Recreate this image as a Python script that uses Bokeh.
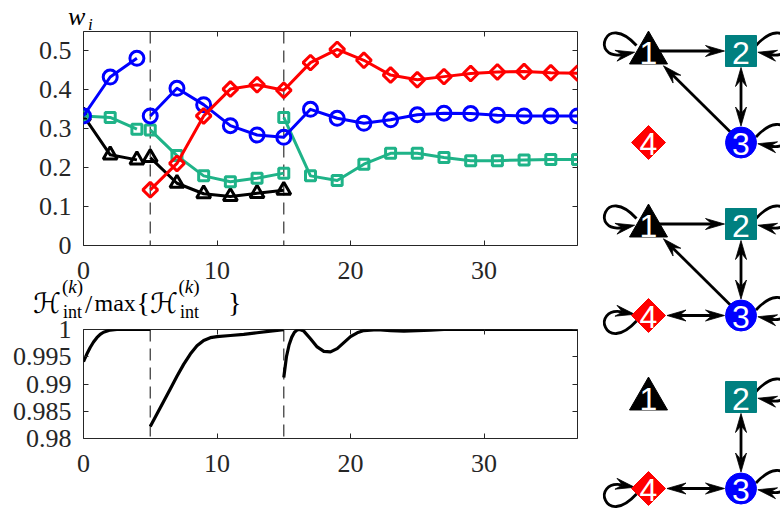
import math
from bokeh.plotting import figure
from bokeh.models import Range1d, LinearAxis, FixedTicker, Span, Div
from bokeh.layouts import row, column
from bokeh.embed import file_html
from bokeh.resources import INLINE
from bokeh.core.properties import value

nan = float("nan")

# ---------------- data: weights w_i per iteration k ----------------
k_node1 = [0, 2, 4, nan, 5, 7, 9, 11, 13, 15]
w_node1 = [0.333, 0.233, 0.220, nan, 0.226, 0.160, 0.133, 0.126, 0.134, 0.142]

k_node2 = [0, 2, 4, nan, 5, 7, 9, 11, 13, 15, nan,
           15, 17, 19, 21, 23, 25, 27, 29, 31, 33, 35, 37]
w_node2 = [0.333, 0.329, 0.299, nan, 0.297, 0.231, 0.179, 0.164, 0.173, 0.186, nan,
           0.329, 0.179, 0.167, 0.209, 0.237, 0.237, 0.226, 0.218, 0.218, 0.220, 0.221, 0.221]

k_node3 = [0, 2, 4, nan, 5, 7, 9, 11, 13, 15,
           17, 19, 21, 23, 25, 27, 29, 31, 33, 35, 37]
w_node3 = [0.333, 0.433, 0.481, nan, 0.333, 0.404, 0.362, 0.308, 0.284, 0.278,
           0.350, 0.327, 0.314, 0.323, 0.336, 0.340, 0.339, 0.335, 0.333, 0.333, 0.333]

k_node4 = [5, 7, 9, 11, 13, 15, 17, 19, 21, 23, 25, 27, 29, 31, 33, 35, 37]
w_node4 = [0.143, 0.211, 0.333, 0.402, 0.413, 0.399,
           0.470, 0.504, 0.476, 0.438, 0.426, 0.434, 0.442, 0.446, 0.447, 0.444, 0.443]

# ---------------- data: normalised H_int ----------------
k_H = [0, 0.25, 0.5, 0.75, 1.0, 1.25, 1.5, 2.0, 2.5, 3, 4, 5, nan,
       5, 5.5, 6, 6.5, 7, 7.5, 8, 8.5, 9, 9.5, 10, 11, 12, 13, 14, 15, nan,
       15, 15.2, 15.4, 15.6, 15.8, 16, 16.2, 16.5, 17, 17.5, 18, 18.5, 19, 19.5,
       20, 20.5, 21, 22, 23, 24, 25, 26, 27, 30, 33, 37]
H_ratio = [0.9941, 0.9955, 0.9967, 0.9977, 0.9985, 0.9991, 0.9995, 0.9999, 1.0, 1.0, 1.0, 1.0, nan,
           0.9822, 0.9845, 0.9868, 0.9891, 0.9914, 0.9936, 0.9955, 0.9970, 0.9980, 0.9985, 0.9987,
           0.9989, 0.9991, 0.9994, 0.9997, 0.99995, nan,
           0.9912, 0.9950, 0.9972, 0.9986, 0.9995, 0.9999, 1.0, 0.9997, 0.9983, 0.9968, 0.9960,
           0.9959, 0.9965, 0.9976, 0.9987, 0.9994, 0.9998, 0.99995, 0.9998, 0.9997, 0.9998,
           0.9999, 1.0, 1.0, 1.0, 1.0]

switch_k = [5, 15]

x_ticks = [0, 10, 20, 30]
x_tick_labels = ["0", "10", "20", "30"]
w_ticks = [0, 0.1, 0.2, 0.3, 0.4, 0.5]
w_tick_labels = ["0", "0.1", "0.2", "0.3", "0.4", "0.5"]
h_ticks = [0.98, 0.985, 0.99, 0.995, 1.0]
h_tick_labels = ["0.98", "0.985", "0.99", "0.995", "1"]

K_RANGE = (0, 37)
W_RANGE = (0, 0.55)
H_RANGE = (0.98, 1.0)

# ---------------- data: network topologies ----------------
node_names = ["1", "2", "3", "4"]
node_col = [0, 1, 1, 0]
node_row = [0, 0, 1, 1]
graph_edges = [
    [(1, 2, False), (3, 1, False), (2, 3, True)],
    [(1, 2, False), (3, 1, False), (2, 3, True), (3, 4, True)],
    [(2, 3, True), (3, 4, True)],
]
graph_loops = [[1, 2, 3], [1, 2, 3, 4], [2, 3, 4]]

# ---------------- style ----------------
SERIF = "Liberation Serif"
SCRIPT = "'DejaVu Serif','DejaVu Sans',serif"
TXT = "#262626"
GREEN = "#1FB388"
series_style = [
    (k_node1, w_node1, "black", "triangle", 14, 0.0),
    (k_node2, w_node2, GREEN, "square", 10, 0.0),
    (k_node3, w_node3, "#0000FF", "circle", 14, 0.0),
    (k_node4, w_node4, "#FF0000", "square", 10.5, math.pi / 4),
]
node_color = ["black", "#008080", "#0000FF", "#FF0000"]
node_marker = ["triangle", "square", "circle", "square"]
node_size = [38, 31, 31, 24]
node_angle = [0, 0, 0, math.pi / 4]
node_dy = [2, 0, 0, 0]
node_clear = [21, 16.5, 16.5, 18.5]
loop_side = [-1, 1, 1, -1]
loop_vert = [-1, -1, -1, 1]
loop_extra = [0, 3, 3, 0]


def configure_axis(ax, ticks, labels=None, standoff=11):
    ax.ticker = FixedTicker(ticks=ticks)
    ax.axis_line_color = None
    ax.major_tick_in = 5
    ax.major_tick_out = 0
    ax.major_tick_line_color = TXT
    ax.major_tick_line_width = 1
    ax.minor_tick_line_color = None
    if labels is not None:
        ax.major_label_overrides = dict(zip(ticks, labels))
        ax.major_label_text_font = SERIF
        ax.major_label_text_font_size = "26px"
        ax.major_label_text_color = TXT
        ax.major_label_standoff = standoff
    else:
        ax.major_label_text_color = None
        ax.major_label_text_font_size = "1px"
        ax.major_label_standoff = 0


def make_panel(height, y_range, top, bottom, yticks, ylabels):
    p = figure(width=590, height=height, x_range=Range1d(*K_RANGE), y_range=Range1d(*y_range),
               output_backend="svg", toolbar_location=None,
               x_axis_type=None, y_axis_type=None,
               min_border_left=83, min_border_right=13,
               min_border_top=top, min_border_bottom=bottom)
    p.outline_line_color = TXT
    p.outline_line_width = 1
    p.background_fill_color = "white"
    p.border_fill_color = "white"
    b = LinearAxis(); configure_axis(b, x_ticks, x_tick_labels, 16); p.add_layout(b, "below")
    l = LinearAxis(); configure_axis(l, yticks, ylabels, 12); p.add_layout(l, "left")
    t = LinearAxis(); configure_axis(t, x_ticks); p.add_layout(t, "above")
    r = LinearAxis(); configure_axis(r, yticks); p.add_layout(r, "right")
    for s in switch_k:
        p.add_layout(Span(location=s, dimension="height", line_color="#404040",
                          line_dash="12 7", line_width=1.3, level="underlay"))
    return p


# ---------------- top panel ----------------
pa = make_panel(305, W_RANGE, 31, 60, w_ticks, w_tick_labels)
for k, w, c, m, sz, ang in series_style:
    pa.line(k, w, line_color=c, line_width=3, line_join="round")
    pa.scatter(k, w, marker=m, size=sz, angle=ang, line_color=c, fill_color=None, line_width=3)

# ---------------- bottom panel ----------------
pb = make_panel(205, H_RANGE, 24, 72, h_ticks, h_tick_labels)
pb.line(k_H, H_ratio, line_color="black", line_width=3.2, line_join="round")

# ---------------- network panels ----------------
pc = figure(width=190, height=510, x_range=Range1d(590, 780), y_range=Range1d(510, 0),
            output_backend="svg", toolbar_location=None, x_axis_type=None, y_axis_type=None,
            min_border=0)
pc.outline_line_color = None
pc.grid.visible = False

GX0, GDX = 648, 92.5
GY0, GDY, PANEL_DY = 50.5, 91.5, 173
HEAD_L, HEAD_W, NOTCH = 19, 11, 0.65


def node_xy(panel, n):
    return (GX0 + GDX * node_col[n - 1], GY0 + PANEL_DY * panel + GDY * node_row[n - 1])


def unit(dx, dy):
    d = math.hypot(dx, dy)
    return dx / d, dy / d


head_xs, head_ys = [], []


def add_head(tx, ty, ux, uy):
    nx, ny = -uy, ux
    bx, by = tx - HEAD_L * ux, ty - HEAD_L * uy
    head_xs.append([tx, bx + nx * HEAD_W / 2, tx - NOTCH * HEAD_L * ux, bx - nx * HEAD_W / 2])
    head_ys.append([ty, by + ny * HEAD_W / 2, ty - NOTCH * HEAD_L * uy, by - ny * HEAD_W / 2])


seg = dict(x0=[], y0=[], x1=[], y1=[])
bez = dict(x0=[], y0=[], x1=[], y1=[], cx0=[], cy0=[], cx1=[], cy1=[])

for pi, edges in enumerate(graph_edges):
    for a, b, both in edges:
        ax_, ay_ = node_xy(pi, a)
        bx_, by_ = node_xy(pi, b)
        ux, uy = unit(bx_ - ax_, by_ - ay_)
        tb = (bx_ - node_clear[b - 1] * ux, by_ - node_clear[b - 1] * uy)
        add_head(tb[0], tb[1], ux, uy)
        eb = (tb[0] - NOTCH * HEAD_L * ux, tb[1] - NOTCH * HEAD_L * uy)
        if both:
            ta = (ax_ + node_clear[a - 1] * ux, ay_ + node_clear[a - 1] * uy)
            add_head(ta[0], ta[1], -ux, -uy)
            ea = (ta[0] + NOTCH * HEAD_L * ux, ta[1] + NOTCH * HEAD_L * uy)
        else:
            ea = (ax_, ay_)
        seg["x0"].append(ea[0]); seg["y0"].append(ea[1])
        seg["x1"].append(eb[0]); seg["y1"].append(eb[1])

for pi, loops in enumerate(graph_loops):
    for n in loops:
        cx, cy = node_xy(pi, n)
        s, v, e = loop_side[n - 1], loop_vert[n - 1], loop_extra[n - 1]
        p0 = (cx + s * (12 + e), cy + v * 5.5)
        c1 = (cx + s * (44 + e), cy + v * 40.5)
        c2 = (cx + s * (58 + e), cy - v * 9.5)
        p3 = (cx + s * (26 + e), cy - v * 3.5)
        bez["x0"].append(p0[0]); bez["y0"].append(p0[1])
        bez["x1"].append(p3[0]); bez["y1"].append(p3[1])
        bez["cx0"].append(c1[0]); bez["cy0"].append(c1[1])
        bez["cx1"].append(c2[0]); bez["cy1"].append(c2[1])
        ux, uy = unit(p3[0] - c2[0], p3[1] - c2[1])
        add_head(p3[0] + NOTCH * HEAD_L * ux, p3[1] + NOTCH * HEAD_L * uy, ux, uy)

pc.segment(**seg, line_color="black", line_width=2.8)
pc.bezier(**bez, line_color="black", line_width=2.8)
pc.patches(head_xs, head_ys, fill_color="black", line_color="black", line_width=0.8)

for pi in range(len(graph_edges)):
    for n in range(1, 5):
        x, y = node_xy(pi, n)
        i = n - 1
        pc.scatter([x], [y + node_dy[i]], marker=node_marker[i], size=node_size[i],
                   angle=node_angle[i], fill_color=node_color[i], line_color=node_color[i],
                   line_width=1)
        pc.text([x], [y + 1.5], text=[node_names[i]], text_color="white",
                text_font=value("Liberation Sans"), text_font_size="32px",
                text_align="center", text_baseline="middle")

# ---------------- axis titles (rich text, absolutely positioned) ----------------
PAGE_H = 510
Y_FIX = 10.5
# text, left px, baseline px, font size, style, font
label_parts = [
    ("w", 68, 24, 26, "italic", SERIF),
    ("i", 88, 29, 17, "italic", SERIF),
    ("ℋ", 33, 312, 28, "normal", SCRIPT),
    ("(", 62, 291, 19, "normal", SERIF),
    ("k", 68.3, 291, 19, "italic", SERIF),
    (")", 76.7, 291, 19, "normal", SERIF),
    ("int", 63, 317, 18, "normal", SERIF),
    ("/", 85, 312, 26, "normal", SERIF),
    ("max", 94.5, 310, 24, "normal", SERIF),
    ("{", 136.5, 311, 28, "normal", SERIF),
    ("ℋ", 150, 312, 28, "normal", SCRIPT),
    ("(", 178.5, 291, 19, "normal", SERIF),
    ("k", 184.8, 291, 19, "italic", SERIF),
    (")", 193.2, 291, 19, "normal", SERIF),
    ("int", 180, 317, 18, "normal", SERIF),
    ("}", 228, 311, 28, "normal", SERIF),
]
spans = []
for txt, lx, ly, fs, st, fnt in label_parts:
    top = ly - 0.84 * fs - PAGE_H - Y_FIX
    fam = fnt if fnt.startswith("'") else f"'{fnt}'"
    spans.append(
        f'<span style="position:absolute;left:{lx:.1f}px;top:{top:.1f}px;'
        f'font-family:{fam};font-size:{fs}px;font-style:{st};line-height:1;'
        f'white-space:nowrap;color:#000;z-index:10">{txt}</span>')
html = ('<div style="position:relative;width:0;height:0;overflow:visible">'
        + "".join(spans) + "</div>")
labels_div = Div(text=html, width=590, height=0, margin=(0, 0, 0, 0),
                 styles={"overflow": "visible", "z-index": "10"})

layout = column(row(column(pa, pb), pc), labels_div)
open("out.html", "w").write(file_html(layout, INLINE))
